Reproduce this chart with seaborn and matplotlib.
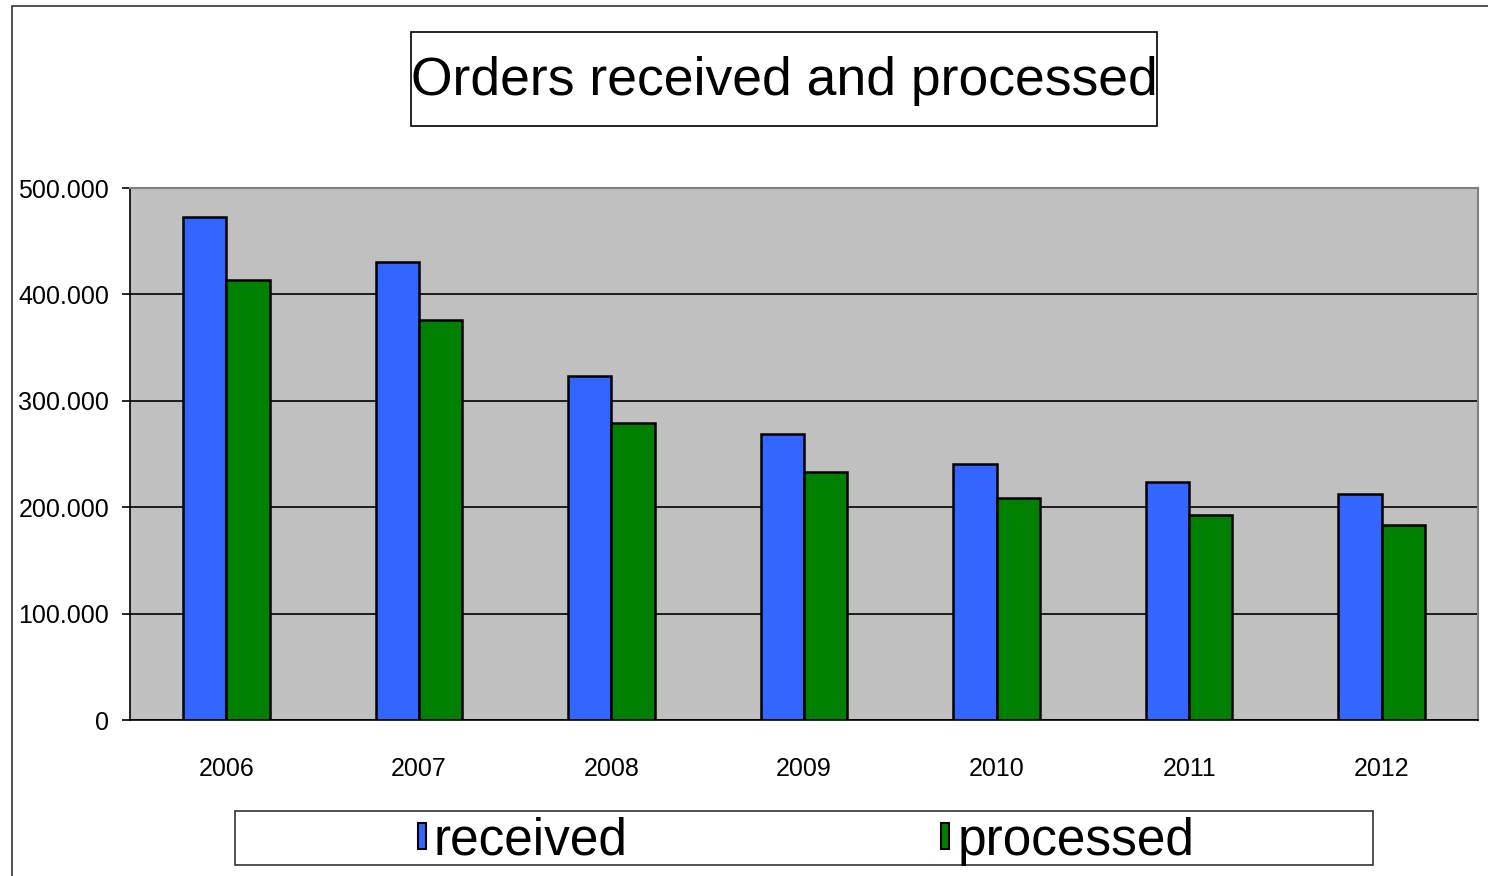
import pandas as pd
import numpy as np
import matplotlib
matplotlib.use("Agg")
import matplotlib.pyplot as plt
import seaborn as sns
from matplotlib.patches import Patch, Rectangle
from matplotlib.ticker import FuncFormatter, FixedLocator

years = ["2006", "2007", "2008", "2009", "2010", "2011", "2012"]
received = [473000, 430000, 323000, 269000, 241000, 224000, 212000]
processed = [414000, 376000, 279000, 233000, 209000, 193000, 183000]
series_names = ["received", "processed"]
colors = ["#3366FF", "#008000"]

orders = pd.DataFrame({
    "year": years * 2,
    "orders": received + processed,
    "series": [series_names[0]] * len(years) + [series_names[1]] * len(years),
})

sns.set_style("white")
plt.rcParams["font.family"] = ["Liberation Sans", "DejaVu Sans"]
plt.rcParams["text.color"] = "black"
plt.rcParams["xtick.color"] = "black"
plt.rcParams["ytick.color"] = "black"

W, H = 1488, 876
fig = plt.figure(figsize=(W / 100, H / 100), dpi=100)
ax = fig.add_axes([130 / W, 156 / H, 1348 / W, 532 / H])
ax.set_facecolor("#C0C0C0")

sns.barplot(data=orders, x="year", y="orders", hue="series", order=years,
            hue_order=series_names, palette=colors, width=0.45, saturation=1,
            edgecolor="black", linewidth=1.8, legend=False, ax=ax)

ax.set_xlim(-0.5, len(years) - 0.5)
ax.set_ylim(0, 500000)
ax.set_yticks(np.arange(0, 500001, 100000))
ax.yaxis.set_major_formatter(FuncFormatter(
    lambda v, _: "0" if v == 0 else f"{int(v):,}".replace(",", ".")))
ax.yaxis.grid(True, color="black", linewidth=1.2)
ax.set_axisbelow(True)
ax.set_xlabel("")
ax.set_ylabel("")

# ticks between categories, labels at the centres
ax.xaxis.set_minor_locator(FixedLocator(np.arange(-0.5, len(years), 1)))
ax.tick_params(axis="x", which="major", length=0, pad=27, labelsize=18, labelcolor="black")
ax.tick_params(axis="x", which="minor", length=7, width=1.2, color="black", direction="out")
ax.tick_params(axis="y", length=6, width=1.2, color="black", direction="out", pad=9,
               left=True, labelsize=18, labelcolor="black")

for side in ["left", "bottom"]:
    ax.spines[side].set_color("black")
    ax.spines[side].set_linewidth(1.2)
for side in ["top", "right"]:
    ax.spines[side].set_color("#808080")
    ax.spines[side].set_linewidth(1.5)

# outer frame, title box, legend box
fig.patches.append(Rectangle((12 / W, -0.1), 1.1, 1 - 6 / H + 0.1, transform=fig.transFigure,
                             fill=False, edgecolor="#333333", linewidth=1.2))
fig.patches.append(Rectangle((411 / W, 1 - 126 / H), 746 / W, 94 / H, transform=fig.transFigure,
                             fill=False, edgecolor="black", linewidth=1.2))
fig.patches.append(Rectangle((235 / W, 1 - 865 / H), 1138 / W, 54 / H, transform=fig.transFigure,
                             fill=False, edgecolor="#333333", linewidth=1.2))

fig.text(784 / W, 1 - 81 / H, "Orders received and processed", ha="center", va="center",
         fontsize=38.5, color="black")

handles = [Patch(facecolor=c, edgecolor="black", linewidth=1.5, label=n)
           for c, n in zip(colors, series_names)]
leg = fig.legend(handles=handles, loc="center", bbox_to_anchor=(806 / W, 1 - 841 / H), ncol=2,
                 frameon=False, fontsize=37, handlelength=0.16, handleheight=0.38,
                 handletextpad=0.15, columnspacing=6.1, borderpad=0)
for t in leg.get_texts():
    t.set_color("black")

fig.savefig("out.png", dpi=100)
